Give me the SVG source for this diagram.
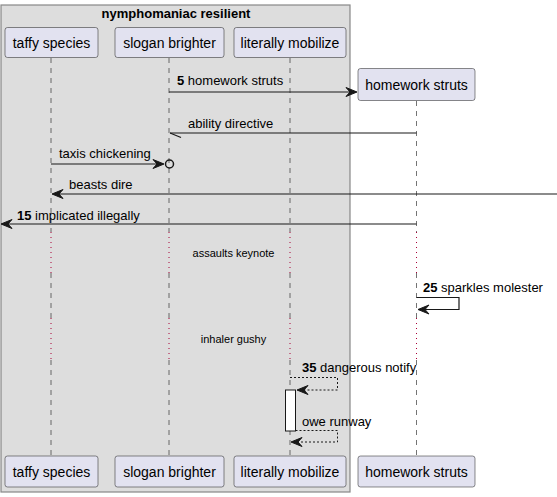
<svg xmlns="http://www.w3.org/2000/svg" width="557" height="497" viewBox="0 0 557 497">
<style>
text{font-family:"Liberation Sans",Arial,sans-serif;fill:#000}
.p rect{fill:#E2E2F0;stroke:#181818;stroke-width:0.5}
.p text{font-size:14px}
.life{stroke:#181818;stroke-opacity:0.6;stroke-width:1;stroke-dasharray:5,5}
.dly{stroke:#A80036;stroke-width:1;stroke-dasharray:1,4}
.msg{stroke:#181818;stroke-width:1.2;fill:none}
.ret{stroke:#181818;stroke-width:1;fill:none;stroke-dasharray:2,2}
.lbl{font-size:13px}
.head{fill:#181818;stroke:#181818;stroke-width:1}
.dl{font-size:11px}
</style>
<rect x="1" y="5" width="349" height="487" fill="#DDDDDD" stroke="#888888" stroke-width="1.2"/>
<text x="176" y="18" text-anchor="middle" font-weight="bold" font-size="13">nymphomaniac resilient</text>
<g id="lifelines">
<line class="life" x1="51" y1="58" x2="51" y2="232"/><line class="dly" x1="51" y1="232" x2="51" y2="273"/><line class="life" x1="51" y1="273" x2="51" y2="318"/><line class="dly" x1="51" y1="318" x2="51" y2="360"/><line class="life" x1="51" y1="360" x2="51" y2="456"/>
<line class="life" x1="169" y1="58" x2="169" y2="232"/><line class="dly" x1="169" y1="232" x2="169" y2="273"/><line class="life" x1="169" y1="273" x2="169" y2="318"/><line class="dly" x1="169" y1="318" x2="169" y2="360"/><line class="life" x1="169" y1="360" x2="169" y2="456"/>
<line class="life" x1="290" y1="58" x2="290" y2="232"/><line class="dly" x1="290" y1="232" x2="290" y2="273"/><line class="life" x1="290" y1="273" x2="290" y2="318"/><line class="dly" x1="290" y1="318" x2="290" y2="360"/><line class="life" x1="290" y1="360" x2="290" y2="456"/>
<line class="life" x1="416.5" y1="101" x2="416.5" y2="232"/><line class="dly" x1="416.5" y1="232" x2="416.5" y2="273"/><line class="life" x1="416.5" y1="273" x2="416.5" y2="318"/><line class="dly" x1="416.5" y1="318" x2="416.5" y2="360"/><line class="life" x1="416.5" y1="360" x2="416.5" y2="456"/>
</g>
<g id="taffy-species" class="p">
<rect x="5" y="27.5" width="93" height="30" rx="2.5"/><text x="51.5" y="48" text-anchor="middle">taffy species</text>
<rect x="5" y="456" width="93" height="31" rx="2.5"/><text x="51.5" y="477" text-anchor="middle">taffy species</text>
</g>
<g id="slogan-brighter" class="p">
<rect x="115" y="27.5" width="109" height="30" rx="2.5"/><text x="169.5" y="48" text-anchor="middle">slogan brighter</text>
<rect x="115" y="456" width="109" height="31" rx="2.5"/><text x="169.5" y="477" text-anchor="middle">slogan brighter</text>
</g>
<g id="literally-mobilize" class="p">
<rect x="234" y="27.5" width="112" height="30" rx="2.5"/><text x="290" y="48" text-anchor="middle">literally mobilize</text>
<rect x="234" y="456" width="112" height="31" rx="2.5"/><text x="290" y="477" text-anchor="middle">literally mobilize</text>
</g>
<g id="homework-struts" class="p">
<rect x="358" y="68.5" width="117" height="32" rx="2.5"/><text x="416.5" y="90" text-anchor="middle">homework struts</text>
<rect x="358" y="456" width="117" height="31" rx="2.5"/><text x="416.5" y="477" text-anchor="middle">homework struts</text>
</g>
<g id="activation">
<rect x="285.5" y="390" width="10" height="41" fill="#FFFFFF" stroke="#181818" stroke-width="1"/>
</g>
<g id="connectors">
<line class="msg" x1="169" y1="92" x2="356" y2="92"/>
<polygon class="head" points="357,92 346,87.5 350,92 346,96.5"/>
<text class="lbl" x="177" y="85"><tspan font-weight="bold">5</tspan> homework struts</text>

<line class="msg" x1="416.5" y1="133" x2="170" y2="133"/>
<line class="msg" x1="170" y1="133" x2="181" y2="137.5"/>
<text class="lbl" x="188" y="128">ability directive</text>

<line class="msg" x1="51" y1="164" x2="163" y2="164"/>
<polygon class="head" points="164,164 153,159.5 157,164 153,168.5"/>
<circle cx="169.5" cy="164" r="4" fill="none" stroke="#181818" stroke-width="1.5"/>
<text class="lbl" x="59" y="158">taxis chickening</text>

<line class="msg" x1="557" y1="194" x2="53" y2="194"/>
<polygon class="head" points="52,194 63,189.5 59,194 63,198.5"/>
<text class="lbl" x="69" y="189">beasts dire</text>

<line class="msg" x1="416.5" y1="224" x2="2" y2="224"/>
<polygon class="head" points="1,224 12,219.5 8,224 12,228.5"/>
<text class="lbl" x="17" y="220"><tspan font-weight="bold">15</tspan> implicated illegally</text>

<text class="dl" x="233.5" y="257" text-anchor="middle">assaults keynote</text>

<polyline class="msg" points="416.5,297.5 459,297.5 459,309.5 419,309.5"/>
<polygon class="head" points="418,309.5 429,305 425,309.5 429,314"/>
<text class="lbl" x="423" y="292"><tspan font-weight="bold">25</tspan> sparkles molester</text>

<text class="dl" x="233.5" y="343" text-anchor="middle">inhaler gushy</text>

<polyline class="ret" points="290,377.5 337.5,377.5 337.5,390 298,390"/>
<polygon class="head" points="297,390 308,385.5 304,390 308,394.5"/>
<text class="lbl" x="302" y="372"><tspan font-weight="bold">35</tspan> dangerous notify</text>

<polyline class="ret" points="295.5,430.5 337.5,430.5 337.5,442 292,442"/>
<polygon class="head" points="291,442 302,437.5 298,442 302,446.5"/>
<text class="lbl" x="302" y="426">owe runway</text>
</g>
</svg>
